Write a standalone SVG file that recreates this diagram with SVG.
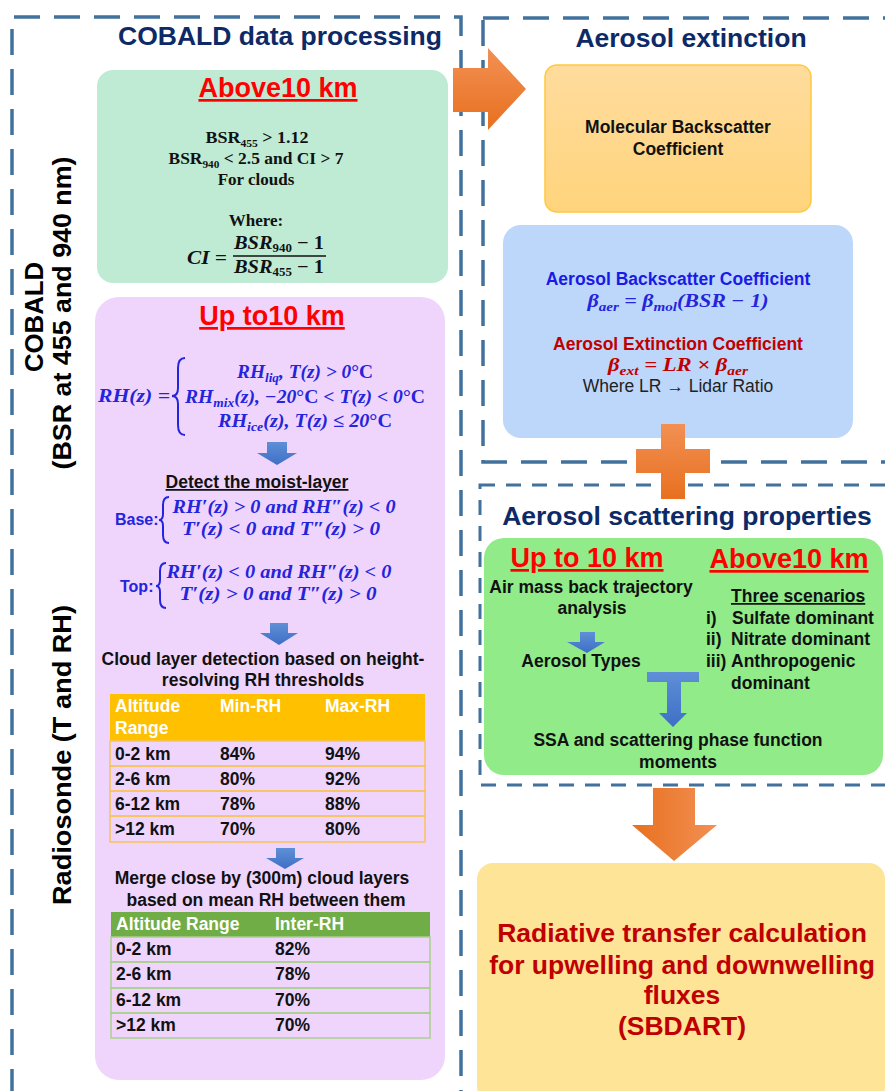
<svg xmlns="http://www.w3.org/2000/svg" width="885" height="1091" viewBox="0 0 885 1091">
<defs>
<linearGradient id="gOr" x1="0" y1="0" x2="0" y2="1"><stop offset="0" stop-color="#F29054"/><stop offset="1" stop-color="#E8701F"/></linearGradient>
<linearGradient id="gOrH" x1="0" y1="0" x2="1" y2="0"><stop offset="0" stop-color="#E8701F"/><stop offset="1" stop-color="#F29054"/></linearGradient>
<linearGradient id="gBl" x1="0" y1="0" x2="0" y2="1"><stop offset="0" stop-color="#5E8FD6"/><stop offset="1" stop-color="#3F6FC6"/></linearGradient>
<linearGradient id="gMol" x1="0" y1="0" x2="0" y2="1"><stop offset="0" stop-color="#FFDC9E"/><stop offset="1" stop-color="#FFD47C"/></linearGradient>
<style>
.dash{fill:none;stroke:#41719C;stroke-width:3.5;stroke-dasharray:26 14}
.dash2{fill:none;stroke:#41719C;stroke-width:3;stroke-dasharray:15 11}
.sans{font-family:"Liberation Sans",Arial,sans-serif;font-weight:bold}
.title{font-family:"Liberation Sans",Arial,sans-serif;font-weight:bold;font-size:26.5px;fill:#0E2A66;text-anchor:middle}
.red{font-family:"Liberation Sans",Arial,sans-serif;font-weight:bold;font-size:27px;fill:#FF0000;text-anchor:middle;text-decoration:underline}
.body{font-family:"Liberation Sans",Arial,sans-serif;font-weight:bold;font-size:17.5px;fill:#111}
.mid{text-anchor:middle}
.cam{font-family:"Liberation Serif","Times New Roman",serif;font-weight:bold;font-size:17px;fill:#111;text-anchor:middle}
.math{font-family:"Liberation Serif","Times New Roman",serif;font-weight:bold;font-style:italic;font-size:19px;fill:#2424DC}
.wh{fill:#FFFFFF}
.barrow{fill:url(#gBl)}
.side{font-family:"Liberation Sans",Arial,sans-serif;font-weight:bold;font-size:26px;fill:#000;text-anchor:middle}
</style>
</defs>

<g id="frames">
<path class="dash" d="M12,1095 V17 H461 V1095"/>
<rect class="dash" x="483" y="18" width="430" height="444"/>
<rect class="dash2" x="480" y="485" width="430" height="300"/>
</g>

<g id="side-labels">
<text class="side" transform="translate(43,317) rotate(-90)" textLength="110" lengthAdjust="spacingAndGlyphs">COBALD</text>
<text class="side" transform="translate(71,313) rotate(-90)" textLength="313" lengthAdjust="spacingAndGlyphs">(BSR at 455 and 940 nm)</text>
<text class="side" transform="translate(71,755) rotate(-90)" textLength="300" lengthAdjust="spacingAndGlyphs">Radiosonde (T and RH)</text>
</g>

<g id="titles">
<text class="title" x="280" y="45">COBALD data processing</text>
<text class="title" x="691" y="47">Aerosol extinction</text>
<text class="title" x="687" y="525">Aerosol scattering properties</text>
</g>

<g id="cobald-above">
<rect x="97" y="70" width="351" height="213" rx="16" fill="#BFEBD4"/>
<text class="red" x="278" y="97">Above10 km</text>
<text class="cam" x="257" y="143" textLength="103" lengthAdjust="spacingAndGlyphs">BSR<tspan font-size="11" dy="4">455</tspan><tspan dy="-4"> &gt; 1.12</tspan></text>
<text class="cam" x="256" y="164" textLength="175" lengthAdjust="spacingAndGlyphs">BSR<tspan font-size="11" dy="4">940</tspan><tspan dy="-4"> &lt; 2.5 and CI &gt; 7</tspan></text>
<text class="cam" x="256" y="185">For clouds</text>
<text class="cam" x="256" y="226">Where:</text>
<text class="math" x="187" y="264" style="fill:#111" textLength="40" lengthAdjust="spacingAndGlyphs">CI =</text>
<text class="math" x="279" y="249" style="fill:#111;text-anchor:middle" font-size="18" textLength="90" lengthAdjust="spacingAndGlyphs">BSR<tspan font-size="12" dy="3" font-style="normal">940</tspan><tspan dy="-3" font-style="normal"> − 1</tspan></text>
<line x1="233" y1="256" x2="326" y2="256" stroke="#111" stroke-width="1.5"/>
<text class="math" x="279" y="273" style="fill:#111;text-anchor:middle" font-size="18" textLength="90" lengthAdjust="spacingAndGlyphs">BSR<tspan font-size="12" dy="3" font-style="normal">455</tspan><tspan dy="-3" font-style="normal"> − 1</tspan></text>
</g>

<g id="radiosonde-upto">
<rect x="95" y="297" width="350" height="783" rx="24" fill="#EFD5FC"/>
<text class="red" x="272" y="325">Up to10 km</text>
<text class="math" x="98" y="402" textLength="72" lengthAdjust="spacingAndGlyphs">RH(z) =</text>
<path d="M185,358 Q178,358 178,368 L178,388 Q178,396 172,396 Q178,396 178,404 L178,425 Q178,435 185,435" fill="none" stroke="#2424DC" stroke-width="2"/>
<text class="math" x="305" y="378" text-anchor="middle" textLength="136" lengthAdjust="spacingAndGlyphs">RH<tspan font-size="13" dy="4">liq</tspan><tspan dy="-4">, T(z) &gt; 0</tspan><tspan font-style="normal">°C</tspan></text>
<text class="math" x="305" y="403" text-anchor="middle" textLength="240" lengthAdjust="spacingAndGlyphs">RH<tspan font-size="13" dy="4">mix</tspan><tspan dy="-4">(z), −20</tspan><tspan font-style="normal">°C</tspan><tspan> &lt; T(z) &lt; 0</tspan><tspan font-style="normal">°C</tspan></text>
<text class="math" x="305" y="427" text-anchor="middle" textLength="174" lengthAdjust="spacingAndGlyphs">RH<tspan font-size="13" dy="4">ice</tspan><tspan dy="-4">(z), T(z) ≤ 20</tspan><tspan font-style="normal">°C</tspan></text>
<path class="barrow" d="M267,442 H287 V453 H297 L277,465 L257,453 H267 Z"/>
<text class="body mid" x="257" y="488" text-decoration="underline">Detect the moist-layer</text>
<text class="sans" x="115" y="525" font-size="16" fill="#2424DC">Base:</text>
<path d="M169,497 Q163,497 163,505 L163,514 Q163,520 159,520 Q163,520 163,526 L163,535 Q163,543 169,543" fill="none" stroke="#2424DC" stroke-width="2"/>
<text class="math" x="284" y="513" text-anchor="middle" textLength="223" lengthAdjust="spacingAndGlyphs">RH′(z) &gt; 0 and RH″(z) &lt; 0</text>
<text class="math" x="281" y="535" text-anchor="middle" textLength="198" lengthAdjust="spacingAndGlyphs">T′(z) &lt; 0 and T″(z) &gt; 0</text>
<text class="sans" x="120" y="592" font-size="16" fill="#2424DC">Top:</text>
<path d="M166,563 Q160,563 160,571 L160,580 Q160,586 156,586 Q160,586 160,592 L160,600 Q160,608 166,608" fill="none" stroke="#2424DC" stroke-width="2"/>
<text class="math" x="279" y="578" text-anchor="middle" textLength="225" lengthAdjust="spacingAndGlyphs">RH′(z) &lt; 0 and RH″(z) &lt; 0</text>
<text class="math" x="278" y="600" text-anchor="middle" textLength="197" lengthAdjust="spacingAndGlyphs">T′(z) &gt; 0 and T″(z) &gt; 0</text>
<path class="barrow" d="M270,623 H288 V633 H298 L279,645 L260,633 H270 Z"/>
<text class="body mid" x="263" y="665">Cloud layer detection based on height-</text>
<text class="body mid" x="263" y="686">resolving RH thresholds</text>
<g id="table-thresholds">
<rect x="110" y="694" width="315" height="47" fill="#FFC000"/>
<g fill="none" stroke="#F7C45A" stroke-width="1.5">
<rect x="110" y="741" width="315" height="25"/>
<rect x="110" y="766" width="315" height="25"/>
<rect x="110" y="791" width="315" height="25"/>
<rect x="110" y="816" width="315" height="26"/>
</g>
<text class="body wh" x="115" y="712">Altitude</text>
<text class="body wh" x="115" y="734">Range</text>
<text class="body wh" x="220" y="712">Min-RH</text>
<text class="body wh" x="325" y="712">Max-RH</text>
<text class="body" x="115" y="760">0-2 km</text><text class="body" x="220" y="760">84%</text><text class="body" x="325" y="760">94%</text>
<text class="body" x="115" y="785">2-6 km</text><text class="body" x="220" y="785">80%</text><text class="body" x="325" y="785">92%</text>
<text class="body" x="115" y="810">6-12 km</text><text class="body" x="220" y="810">78%</text><text class="body" x="325" y="810">88%</text>
<text class="body" x="115" y="835">&gt;12 km</text><text class="body" x="220" y="835">70%</text><text class="body" x="325" y="835">80%</text>
</g>
<path class="barrow" d="M276,848 H295 V858 H304 L285,869 L266,858 H276 Z"/>
<text class="body mid" x="262" y="884">Merge close by (300m) cloud layers</text>
<text class="body mid" x="266" y="906">based on mean RH between them</text>
<g id="table-merge">
<rect x="111" y="912" width="319" height="25" fill="#70AD47"/>
<g fill="none" stroke="#A9D08E" stroke-width="1.5">
<rect x="111" y="937" width="319" height="25"/>
<rect x="111" y="962" width="319" height="26"/>
<rect x="111" y="988" width="319" height="25"/>
<rect x="111" y="1013" width="319" height="25"/>
</g>
<text class="body wh" x="116" y="930">Altitude Range</text>
<text class="body wh" x="275" y="930">Inter-RH</text>
<text class="body" x="116" y="955">0-2 km</text><text class="body" x="275" y="955">82%</text>
<text class="body" x="116" y="980">2-6 km</text><text class="body" x="275" y="980">78%</text>
<text class="body" x="116" y="1006">6-12 km</text><text class="body" x="275" y="1006">70%</text>
<text class="body" x="116" y="1031">&gt;12 km</text><text class="body" x="275" y="1031">70%</text>
</g>
</g>

<g id="molecular">
<rect x="545" y="65" width="266" height="147" rx="12" fill="url(#gMol)" stroke="#FFC83D" stroke-width="1.5"/>
<text class="body mid" x="678" y="133">Molecular Backscatter</text>
<text class="body mid" x="678" y="155">Coefficient</text>
</g>

<g id="aerosol-coef">
<rect x="503" y="225" width="350" height="213" rx="18" fill="#BDD7FA"/>
<text class="body mid" x="678" y="285" style="fill:#1A1AE6">Aerosol Backscatter Coefficient</text>
<text class="math" x="678" y="307" text-anchor="middle" textLength="181" lengthAdjust="spacingAndGlyphs">β<tspan font-size="13" dy="4">aer</tspan><tspan dy="-4"> =  β</tspan><tspan font-size="13" dy="4">mol</tspan><tspan dy="-4">(BSR − 1)</tspan></text>
<text class="body mid" x="678" y="350" style="fill:#C00000">Aerosol Extinction Coefficient</text>
<text class="math" x="678" y="371" text-anchor="middle" style="fill:#C00000" textLength="140" lengthAdjust="spacingAndGlyphs">β<tspan font-size="13" dy="4">ext</tspan><tspan dy="-4"> = LR  ×  β</tspan><tspan font-size="13" dy="4">aer</tspan></text>
<text x="678" y="392" text-anchor="middle" font-family="Liberation Sans, Arial, sans-serif" font-size="17.5" fill="#222">Where LR → Lidar Ratio</text>
</g>

<g id="scattering">
<rect x="484" y="538" width="399" height="237" rx="20" fill="#90EB88"/>
<text class="red" x="587" y="567" font-size="26.5">Up to 10 km</text>
<text class="red" x="789" y="568" font-size="26.5">Above10 km</text>
<text class="body mid" x="591" y="593">Air mass back trajectory</text>
<text class="body mid" x="592" y="614">analysis</text>
<path class="barrow" d="M580,632 H595 V642 H605 L587,653 L567,642 H580 Z"/>
<text class="body mid" x="581" y="667">Aerosol Types</text>
<text class="body" x="731" y="602" text-decoration="underline">Three scenarios</text>
<text class="body" x="706" y="624">i)</text><text class="body" x="732" y="624">Sulfate dominant</text>
<text class="body" x="706" y="645">ii)</text><text class="body" x="731" y="645">Nitrate dominant</text>
<text class="body" x="706" y="667">iii)</text><text class="body" x="731" y="667">Anthropogenic</text>
<text class="body" x="731" y="689">dominant</text>
<path class="barrow" d="M647,672 H699 V682 H681 V713 H687 L673,727 L659,713 H667 V682 H647 Z"/>
<text class="body mid" x="678" y="746">SSA and scattering phase function</text>
<text class="body mid" x="678" y="768">moments</text>
</g>

<g id="radiative">
<rect x="477" y="863" width="408" height="240" rx="16" fill="#FEE497"/>
<g class="sans" font-size="26.5" fill="#C00000" text-anchor="middle">
<text x="682" y="942">Radiative transfer calculation</text>
<text x="682" y="974">for upwelling and downwelling</text>
<text x="682" y="1004">fluxes</text>
<text x="682" y="1035">(SBDART)</text>
</g>
</g>

<g id="connectors">
<path d="M453,68 H488 V48 L526,89 L488,130 V112 H453 Z" fill="url(#gOr)"/>
<path d="M661,424 H685 V449 H710 V473 H685 V499 H661 V473 H636 V449 H661 Z" fill="url(#gOr)"/>
<path d="M653,788 H695 V825 H717 L674,861 L632,825 H653 Z" fill="url(#gOrH)"/>
</g>
</svg>
